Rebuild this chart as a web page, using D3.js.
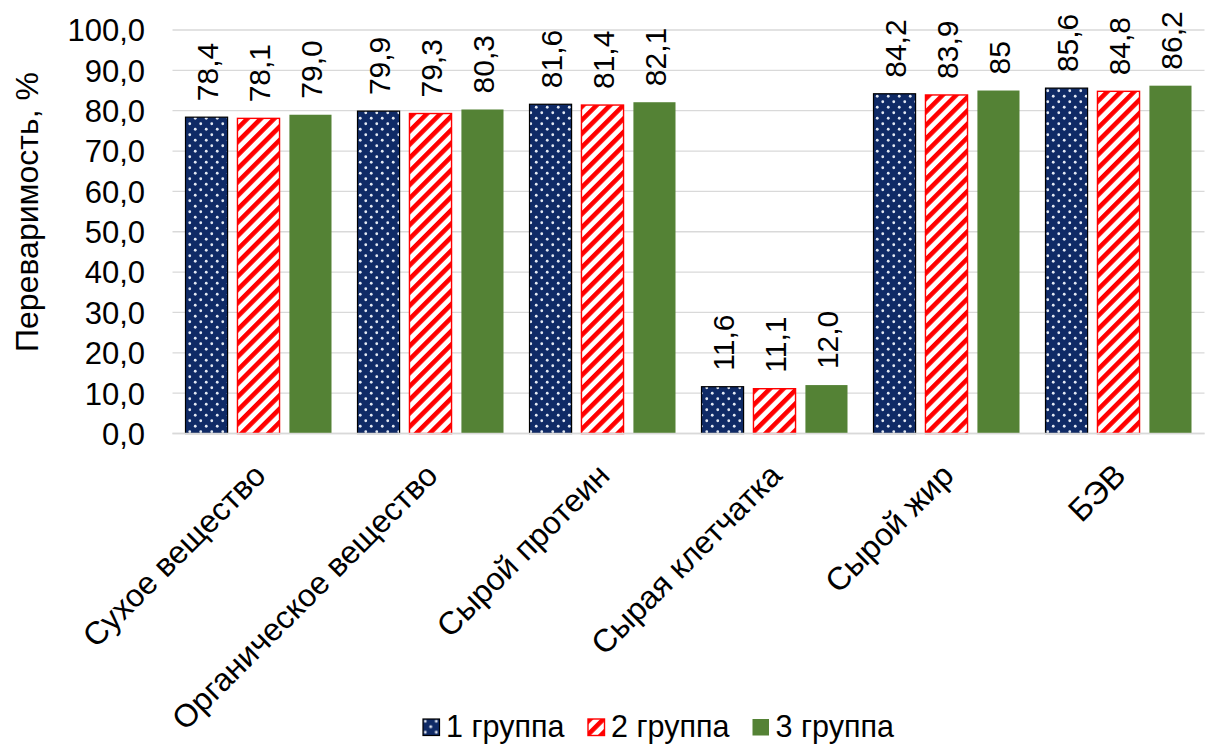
<!DOCTYPE html>
<html>
<head>
<meta charset="utf-8">
<script src="https://cdn.jsdelivr.net/npm/d3@7/dist/d3.min.js"></script>
<style>
  html, body { margin: 0; padding: 0; background: #fff; }
  svg { display: block; font-family: "Liberation Sans", Arial, sans-serif; }
</style>
</head>
<body>
<svg id="chart" width="1206" height="745"></svg>
<script>
// Digestibility of nutrients by group
const categories = ["Сухое вещество", "Органическое вещество", "Сырой протеин", "Сырая клетчатка", "Сырой жир", "БЭВ"];
const seriesNames = ["1 группа", "2 группа", "3 группа"];
const group1 = [78.4, 79.9, 81.6, 11.6, 84.2, 85.6];
const group2 = [78.1, 79.3, 81.4, 11.1, 83.9, 84.8];
const group3 = [79.0, 80.3, 82.1, 12.0, 85.0, 86.2];
const valueLabels1 = ["78,4", "79,9", "81,6", "11,6", "84,2", "85,6"];
const valueLabels2 = ["78,1", "79,3", "81,4", "11,1", "83,9", "84,8"];
const valueLabels3 = ["79,0", "80,3", "82,1", "12,0", "85", "86,2"];
const yTicks = [0, 10, 20, 30, 40, 50, 60, 70, 80, 90, 100];
const yTitle = "Переваримость, %";

const series = [
  { name: seriesNames[0], values: group1, labels: valueLabels1, fill: "url(#dots)", stroke: "#000", sw: 1.2 },
  { name: seriesNames[1], values: group2, labels: valueLabels2, fill: "url(#stripes)", stroke: "#ff0000", sw: 1.4 },
  { name: seriesNames[2], values: group3, labels: valueLabels3, fill: "#548235", stroke: "none", sw: 0 }
];

const svg = d3.select("#chart");
const plot = { left: 172.5, right: 1204.5, top: 30, bottom: 433.5 };

// Fill patterns
const defs = svg.append("defs");
const dots = defs.append("pattern").attr("id", "dots")
  .attr("patternUnits", "userSpaceOnUse").attr("width", 11).attr("height", 11);
dots.append("rect").attr("width", 11).attr("height", 11).attr("fill", "#0f2a66");
dots.append("circle").attr("cx", 2.75).attr("cy", 2.75).attr("r", 1.4).attr("fill", "#e4eaf4");
dots.append("circle").attr("cx", 8.25).attr("cy", 8.25).attr("r", 1.4).attr("fill", "#e4eaf4");

const stripes = defs.append("pattern").attr("id", "stripes")
  .attr("patternUnits", "userSpaceOnUse").attr("width", 9.5).attr("height", 9.5)
  .attr("patternTransform", "rotate(45)");
stripes.append("rect").attr("width", 9.5).attr("height", 9.5).attr("fill", "#fff");
stripes.append("rect").attr("width", 4.6).attr("height", 9.5).attr("fill", "#ff0000");

const x0 = d3.scaleBand().domain(categories).range([plot.left, plot.right]).paddingInner(0).paddingOuter(0);
const x1 = d3.scaleBand().domain(seriesNames).range([13, x0.bandwidth() - 13]).paddingInner(0.19).paddingOuter(0);
const y = d3.scaleLinear().domain([0, 100]).range([plot.bottom, plot.top]);

// Gridlines
svg.append("g").selectAll("line").data(yTicks).join("line")
  .attr("x1", plot.left).attr("x2", plot.right)
  .attr("y1", d => y(d)).attr("y2", d => y(d))
  .attr("stroke", "#d9d9d9").attr("stroke-width", 1.3);

// Y axis labels
const yAxis = d3.axisLeft(y).tickValues(yTicks).tickSize(0).tickPadding(0)
  .tickFormat(d => d3.format(".1f")(d).replace(".", ","));
const yg = svg.append("g").attr("transform", `translate(145,0)`).call(yAxis);
yg.select(".domain").remove();
yg.selectAll("text").attr("font-size", 31).attr("fill", "#000")
  .attr("font-family", "Liberation Sans, Arial, sans-serif").attr("dy", "0.35em");

// Y title
svg.append("text")
  .attr("transform", `translate(38,212) rotate(-90)`)
  .attr("text-anchor", "middle").attr("font-size", 32).attr("fill", "#000")
  .text(yTitle);

// Bars
const groups = svg.append("g").selectAll("g").data(series).join("g");
groups.selectAll("rect").data(s => s.values.map((v, i) => ({ s, v, i }))).join("rect")
  .attr("x", d => x0(categories[d.i]) + x1(d.s.name))
  .attr("y", d => y(d.v))
  .attr("width", x1.bandwidth())
  .attr("height", d => y(0) - y(d.v))
  .attr("fill", d => d.s.fill)
  .attr("stroke", d => d.s.stroke)
  .attr("stroke-width", d => d.s.sw);

// Value labels
groups.selectAll("text").data(s => s.values.map((v, i) => ({ s, v, i }))).join("text")
  .attr("transform", d => `translate(${x0(categories[d.i]) + x1(d.s.name) + x1.bandwidth() / 2 + 1},${y(d.v) - 16}) rotate(-90)`)
  .attr("dy", "0.35em")
  .attr("text-anchor", "start").attr("font-size", 30).attr("fill", "#000")
  .text(d => d.s.labels[d.i]);

// Axis baseline
svg.append("line").attr("x1", plot.left).attr("x2", plot.right)
  .attr("y1", y(0)).attr("y2", y(0)).attr("stroke", "#d9d9d9").attr("stroke-width", 1.3);

// Category labels
svg.append("g").selectAll("text").data(categories).join("text")
  .attr("transform", d => `translate(${x0(d) + x0.bandwidth() / 2 + 9},${plot.bottom + 44}) rotate(-45)`)
  .attr("text-anchor", "end").attr("font-size", 32).attr("fill", "#000")
  .text(d => d);

// Legend
const legendX = [422.5, 587.5, 752];
const lg = svg.append("g").selectAll("g").data(series).join("g")
  .attr("transform", (d, i) => `translate(${legendX[i]},718.5)`);
lg.append("rect").attr("x", 0.5).attr("y", 0.5).attr("width", 16.5).attr("height", 16.5)
  .attr("fill", d => d.fill).attr("stroke", d => d.stroke).attr("stroke-width", d => d.sw);
lg.append("text").attr("x", 23.5).attr("y", 18.5).attr("font-size", 30.5).attr("fill", "#000")
  .text(d => d.name);
</script>
</body>
</html>
